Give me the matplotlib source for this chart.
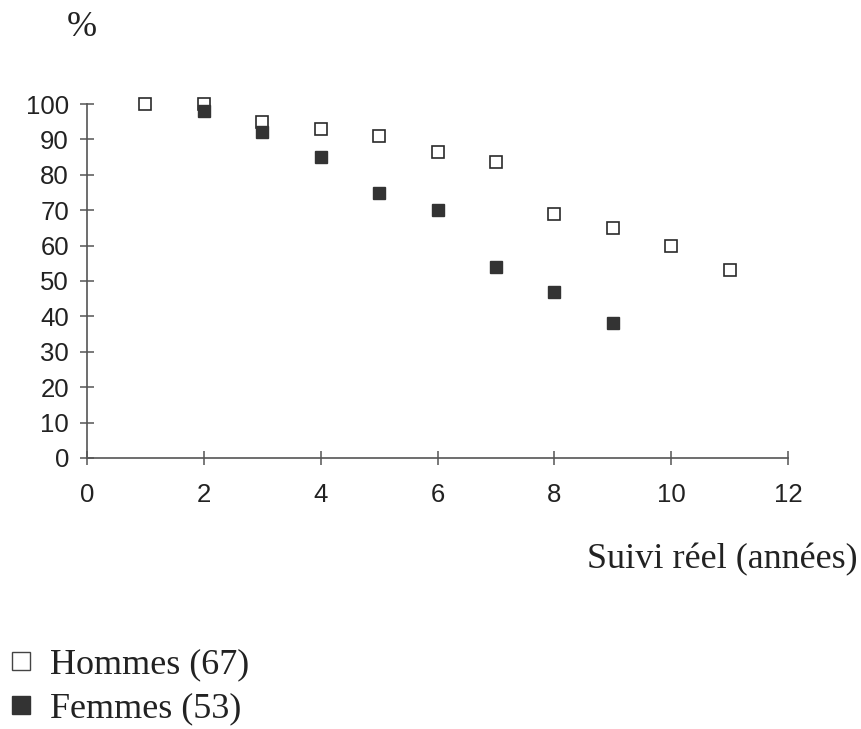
import matplotlib
matplotlib.use("Agg")
import matplotlib.pyplot as plt
from matplotlib.lines import Line2D

# Survival (%) by years of actual follow-up
years_hommes = [1, 2, 3, 4, 5, 6, 7, 8, 9, 10, 11]
pct_hommes = [100, 100, 95, 93, 91, 86.5, 83.5, 69, 65, 60, 53]

years_femmes = [2, 3, 4, 5, 6, 7, 8, 9]
pct_femmes = [98, 92, 85, 75, 70, 54, 47, 38]

xticks = [0, 2, 4, 6, 8, 10, 12]
yticks = [0, 10, 20, 30, 40, 50, 60, 70, 80, 90, 100]

label_hommes = "Hommes (67)"
label_femmes = "Femmes (53)"
xlabel = "Suivi réel (années)"
ylabel = "%"

W, H, DPI = 861, 729, 100
fig = plt.figure(figsize=(W / DPI, H / DPI), dpi=DPI)
fig.patch.set_facecolor("white")

x0, x1 = 87, 788
y0, y1 = 458, 104
ax = fig.add_axes([x0 / W, 1 - y0 / H, (x1 - x0) / W, (y0 - y1) / H])
ax.set_xlim(0, 12)
ax.set_ylim(0, 100)

ink = "#2a2a2a"
fill = "#333333"

ax.plot(years_hommes, pct_hommes, linestyle="none", marker="s", markersize=8.5,
        markerfacecolor="white", markeredgecolor=ink, markeredgewidth=1.2,
        clip_on=False, zorder=3)
ax.plot(years_femmes, pct_femmes, linestyle="none", marker="s", markersize=8.5,
        markerfacecolor=fill, markeredgecolor=fill, markeredgewidth=1.0,
        clip_on=False, zorder=4)

for side in ("top", "right"):
    ax.spines[side].set_visible(False)
for side in ("left", "bottom"):
    ax.spines[side].set_color("#555555")
    ax.spines[side].set_linewidth(1.2)

ax.set_xticks(xticks)
ax.set_yticks(yticks)
sans = ["Liberation Sans", "DejaVu Sans"]
serif = ["Liberation Serif", "DejaVu Serif"]
ax.set_xticklabels([str(t) for t in xticks], family=sans, fontsize=18.5, color="#222222")
ax.set_yticklabels([str(t) for t in yticks], family=sans, fontsize=18.5, color="#222222")
ax.tick_params(axis="both", direction="inout", length=10, width=1.1, color="#555555")
ax.tick_params(axis="x", pad=13)
ax.tick_params(axis="y", pad=8)

fig.text(67 / W, 1 - 28 / H, ylabel, family=serif, fontsize=26, color="#222222",
         ha="left", va="center")
fig.text(858 / W, 1 - 560 / H, xlabel, family=serif, fontsize=26, color="#222222",
         ha="right", va="center")

handles = [
    Line2D([], [], linestyle="none", marker="s", markersize=13,
           markerfacecolor="white", markeredgecolor="#444444", markeredgewidth=1.0),
    Line2D([], [], linestyle="none", marker="s", markersize=13,
           markerfacecolor=fill, markeredgecolor=fill),
]
leg = fig.legend(handles, [label_hommes, label_femmes], loc="upper left",
                 bbox_to_anchor=(1 / W, 1 - 641 / H), frameon=False,
                 prop={"family": serif, "size": 26}, handlelength=0.7,
                 handletextpad=0.45, labelspacing=0.29, borderpad=0.2,
                 borderaxespad=0.0)
for t in leg.get_texts():
    t.set_color("#222222")

fig.savefig("out.png", dpi=DPI, facecolor="white")
